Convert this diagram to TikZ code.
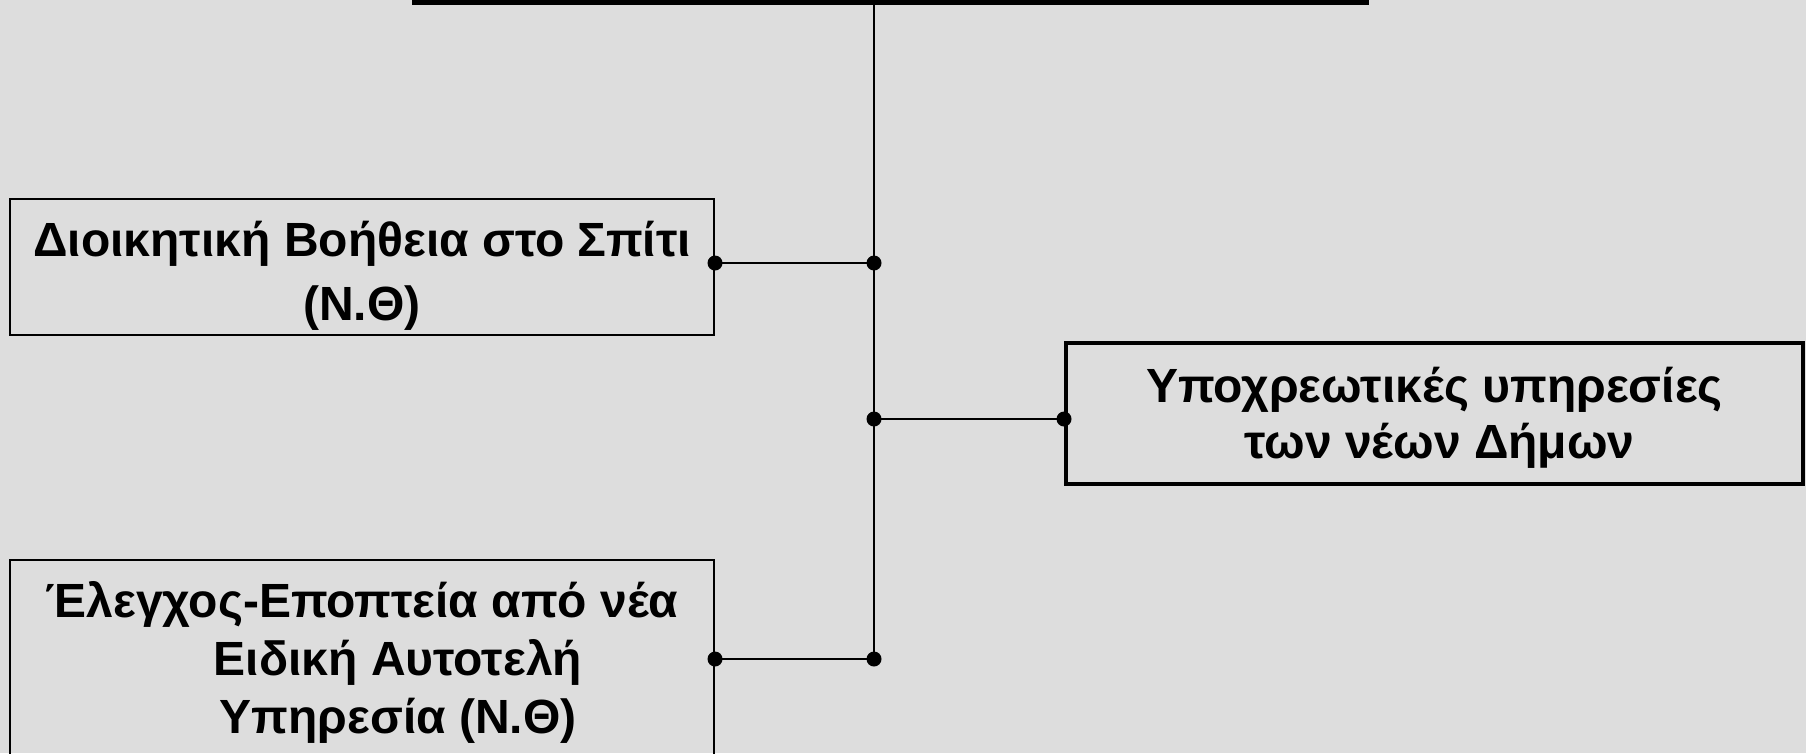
\documentclass[tikz,border=0pt]{standalone}
\usepackage{fontspec}
\setmainfont{Liberation Sans}
\begin{document}
\newcommand\greekstack[2]{\vtop{\baselineskip=#1\lineskiplimit=-100pt\halign{\hfil##\hfil\cr#2\crcr}}}
\definecolor{bggray}{RGB}{221,221,221}
\tikzset{
  boxthin/.style={draw=black, line width=2pt, inner sep=0pt},
  boxthick/.style={draw=black, line width=4pt, inner sep=0pt},
  topbox/.style={draw=black, line width=5pt, inner sep=0pt},
  txt/.style={anchor=base, inner sep=0pt, font=\bfseries\fontsize{48}{58}\selectfont},
  dotmark/.style={circle, fill=black, inner sep=0pt, minimum size=15pt},
  conn/.style={draw=black, line width=2pt}
}
\begin{tikzpicture}[x=1pt,y=-1pt]
\useasboundingbox (0,0) rectangle (1806,753);
\clip (0,0) rectangle (1806,753);
\fill[bggray] (0,0) rectangle (1806,753);

% boxes
\node[topbox, minimum width=952pt, minimum height=202.5pt] (top) at (890,-98.75) {};
\node[boxthin, minimum width=704pt, minimum height=136pt] (box1) at (362,267) {};
\node[boxthick, minimum width=737pt, minimum height=141pt] (box2) at (1434.5,413.5) {};
\node[boxthin, minimum width=704pt, minimum height=280pt] (box3) at (362,700) {};

% texts
\node[txt] (t1) at (362,256) {\greekstack{64pt}{Διοικητική Βοήθεια στο Σπίτι\cr (Ν.Θ)}};
\node[txt] (t2) at (1434.5,402) {\greekstack{56pt}{Υποχρεωτικές υπηρεσίες\cr \hspace*{10pt}των νέων Δήμων}};
\node[txt] (t3) at (362,617) {\greekstack{58pt}{Έλεγχος-Εποπτεία από νέα\cr \hspace*{72pt}Ειδική Αυτοτελή\cr \hspace*{72pt}Υπηρεσία (Ν.Θ)}};

% junctions
\coordinate (j1) at (874,263);
\coordinate (j2) at (874,419);
\coordinate (j3) at (874,659);

% connectors
\draw[conn] (top.south -| j1) -- (j3);
\draw[conn] (box1.east |- j1) -- (j1);
\draw[conn] (j2) -- (box2.west |- j2);
\draw[conn] (box3.east |- j3) -- (j3);

% dots
\node[dotmark] (d1a) at (box1.east |- j1) {};
\node[dotmark] (d1b) at (j1) {};
\node[dotmark] (d2a) at (j2) {};
\node[dotmark] (d2b) at (box2.west |- j2) {};
\node[dotmark] (d3a) at (box3.east |- j3) {};
\node[dotmark] (d3b) at (j3) {};
\end{tikzpicture}
\end{document}
